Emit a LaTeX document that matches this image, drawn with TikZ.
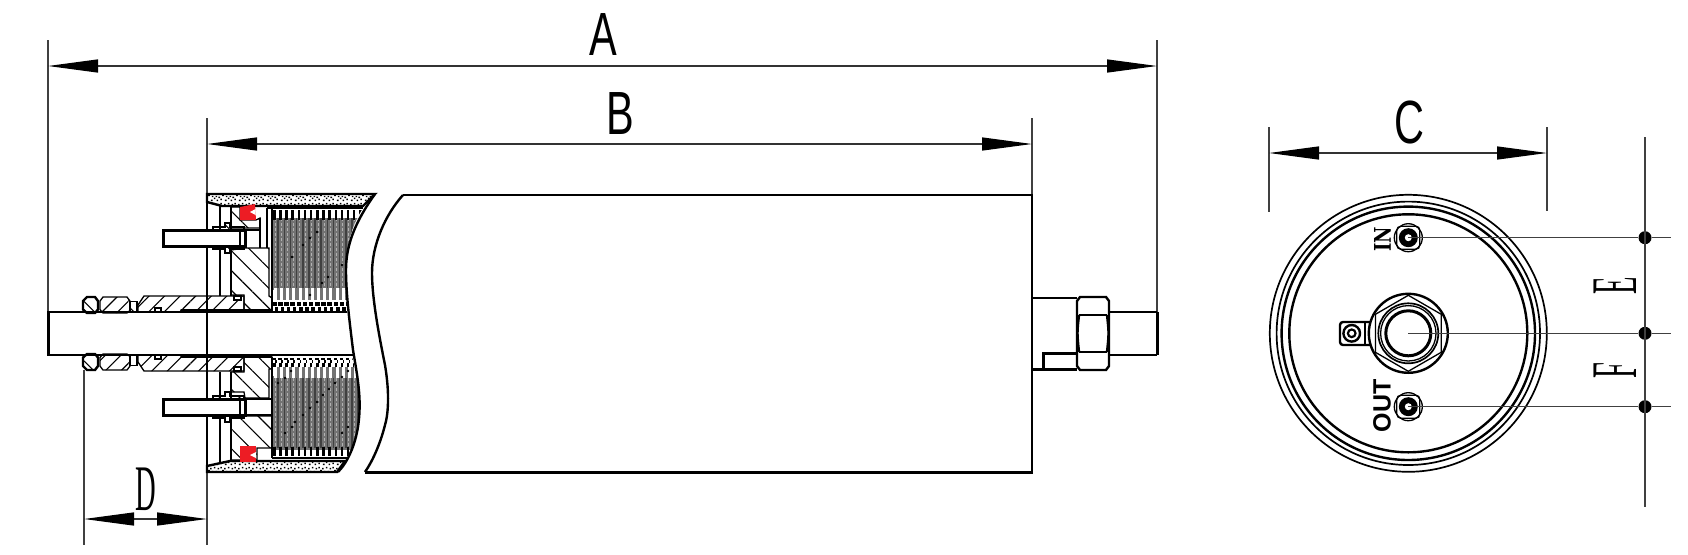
\documentclass[tikz,border=0pt]{standalone}
\usepackage{fontspec}
\setmainfont{Liberation Sans}
\newfontfamily\dimserif{Liberation Serif}
\newfontfamily\portslab{DejaVu Serif}
\usetikzlibrary{positioning, calc, arrows.meta, patterns, patterns.meta}
\pgfdeclarepatternformonly{stipple}{\pgfqpoint{0pt}{0pt}}{\pgfqpoint{14pt}{11pt}}{\pgfqpoint{14pt}{11pt}}{
  \foreach \a/\b in {1/1,4/3,7/1,11/2,2/5,6/5,9/4,13/6,0/8,4/9,8/8,11/9}{
    \pgfpathrectangle{\pgfqpoint{\a pt}{\b pt}}{\pgfqpoint{1.7pt}{1.5pt}}
    \pgfusepath{fill}
  }
}
\tikzset{dimline/.style={line width=1.3pt, draw=black!80, {Triangle[length=50pt,width=13pt,black]}-{Triangle[length=50pt,width=13pt,black]}}}
\tikzset{extline/.style={line width=1.3pt, draw=black!75}}
\tikzset{thin0/.style={line width=1.3pt}}
\tikzset{thick0/.style={line width=2.4pt}}
\tikzset{heavy0/.style={line width=3pt}}
\tikzset{hatchl/.style={thin0, pattern={Lines[angle=45,distance=11pt,line width=1.1pt]}}}
\tikzset{hatchr/.style={thin0, pattern={Lines[angle=-45,distance=14pt,line width=1.1pt]}}}
\tikzset{sandband/.style={thick0, pattern=stipple, pattern color=black}}
\tikzset{sealred/.style={fill={rgb,255:red,237;green,28;blue,36}, draw=none}}
\tikzset{sanslabel/.style={inner sep=0pt, font=\fontsize{61}{61}\selectfont, xscale=.68}}
\tikzset{seriflabel/.style={inner sep=0pt, font=\dimserif\fontsize{65}{65}\selectfont, xscale=.44}}
\tikzset{portlabel/.style={inner sep=0pt, rotate=90}}
\tikzset{dimdot/.style={circle, fill=black, inner sep=0pt, minimum size=13pt}}
\tikzset{packdark/.style={line width=1.6pt, draw=black!75}}
\tikzset{packlight/.style={line width=1pt, draw=black!30, dash pattern=on 3pt off 2pt}}
\tikzset{sleevepart/.pic={
    \draw[thick0, fill=white] (87,-36.5) -- (95,-36.5) -- (98,-32.5) -- (98,-24) -- (95,-20.5) -- (87,-20.5) -- (83,-24) -- (83,-32.5) -- cycle;
    \draw[hatchr] (87,-36.5) -- (95,-36.5) -- (98,-32.5) -- (98,-24) -- (95,-20.5) -- (87,-20.5) -- (83,-24) -- (83,-32.5) -- cycle;
    \draw[thick0, hatchl] (103,-36.5) -- (127,-36.5) -- (130,-32.5) -- (130,-23) -- (127,-20.5) -- (103,-20.5) -- (100,-24) -- (100,-32.5) -- cycle;
    \draw[thick0, hatchr] (130,-32) -- (137,-32) -- (137,-21) -- (130,-21) -- cycle;
    \draw[thick0, hatchl] (138,-28.5) -- (144,-37.5) -- (244,-37.5) -- (244,-23.5) -- (181,-23.5) -- (181,-21.5) -- (138,-21.5) -- cycle;
    \draw[thin0, fill=white] (155,-25.5) rectangle (161,-21.5);
    \draw[thin0, fill=white] (234,-37.5) rectangle (241,-33.5);
    \draw[thin0] (181,-23.5) -- (272,-23.5);
}}
\tikzset{pinpart/.pic={
    \draw[hatchr] (213,-11) -- (225,-11) -- (225,-15) -- (230,-15) -- (230,-11) -- (244,-11) -- (244,-8) -- (213,-8) -- cycle;
    \draw[hatchr] (213,11) -- (225,11) -- (225,15) -- (230,15) -- (230,11) -- (244,11) -- (244,8) -- (213,8) -- cycle;
    \draw[heavy0, fill=white] (163,-8) rectangle (245,8);
    \draw[thin0] (240,-8) -- (240,8);
}}
\tikzset{portpart/.pic={
    \draw[thin0] (0,0) circle[radius=14pt];
    \draw[thin0, rounded corners=4pt] (-11.5,-11.5) rectangle (11.5,11.5);
    \fill[black] (0,0) circle[radius=9.5pt];
    \fill[white] (0,0) circle[radius=3.5pt];
}}

\begin{document}
\begin{tikzpicture}[x=1pt, y=-1pt]
  \useasboundingbox (0,0) rectangle (1688,554);

  \coordinate (a0) at (48,66);
  \coordinate (a1) at (1157,66);
  \coordinate (b0) at (207,144);
  \coordinate (b1) at (1032,144);
  \coordinate (c0) at (1269,153);
  \coordinate (c1) at (1547,153);
  \coordinate (d0) at (84,519);
  \coordinate (d1) at (207,519);

  \draw[extline] (48,40) -- (48,312);
  \draw[extline] (1157,40) -- (1157,312);
  \draw[extline] (207,118) -- (207,545);
  \draw[extline] (1032,118) -- (1032,195);
  \draw[extline] (84,370) -- (84,545);
  \draw[extline] (1269,127) -- (1269,212);
  \draw[extline] (1547,127) -- (1547,211);

  \draw[dimline] (a0) -- (a1);
  \draw[dimline] (b0) -- (b1);
  \draw[dimline] (c0) -- (c1);
  \draw[dimline] (d0) -- (d1);

  \node[sanslabel] (la) at (603,35) {A};
  \node[sanslabel] (lb) at (620,113.5) {B};
  \node[sanslabel] (lc) at (1409,122) {C};
  \node[seriflabel] (ld) at (145.5,489.5) {D};

  \draw[sandband] (207,194) -- (375,194) -- (363,206) -- (222,206) -- (207,202) -- cycle;
  \draw[sandband] (207,466) -- (230,461) -- (345,461) -- (337,472) -- (207,472) -- cycle;

  \draw[thick0] (207,194) -- (207,472);
  \draw[thick0] (220,205) -- (220,296);
  \draw[thick0] (231,205) -- (231,296);
  \draw[thick0] (220,372) -- (220,462);
  \draw[thick0] (231,372) -- (231,462);

  \draw[hatchr] (231,207) -- (240,207) -- (240,220) -- (256,220) -- (260,218) -- (260,228) -- (231,228) -- cycle;
  \draw[thick0, hatchr] (231,250) -- (231,295) -- (244,295) -- (244,310) -- (272,310) -- (272,298) -- (269,296) -- (269,248) -- (245,248) -- cycle;
  \draw[thick0, hatchr] (231,372) -- (244,372) -- (244,357) -- (272,357) -- (272,369) -- (269,369) -- (269,398) -- (245,398) -- (244,392) -- (231,392) -- cycle;
  \draw[thick0, hatchr] (231,417) -- (245,416) -- (272,416) -- (272,448) -- (257,448) -- (257,460) -- (231,460) -- cycle;
  \draw[thick0] (260,218) -- (260,248);
  \draw[thick0] (267,208) -- (267,248);
  \draw[thick0] (245,230) -- (260,230);
  \draw[thick0] (245,399) -- (272,399);
  \draw[thick0] (245,415) -- (272,415);

  \fill[sealred] (240,207) -- (255,204) -- (256,220) -- (240,220) -- cycle;
  \fill[white] (250,212) -- (255.5,209) -- (255.5,215) -- cycle;
  \fill[sealred] (240,446) -- (256,446) -- (256,462) -- (240,462) -- cycle;
  \fill[white] (250,455) -- (256,452) -- (256,458) -- cycle;

  \pic at (0,238) {pinpart};
  \pic at (0,407) {pinpart};
  \pic at (0,333.5) {sleevepart};
  \pic[yscale=-1] at (0,333.5) {sleevepart};

  \begin{scope}
    \clip (272,208) -- (363,208) .. controls (352,225) and (346,245) .. (346,270) -- (347,312) -- (272,312) -- cycle;
    \fill[black!55] (272,218) rectangle (365,290);
    \foreach \k [evaluate=\k as \x using 272+6.15*\k] in {0,...,15}{
      \draw[packdark] (\x,218) -- (\x,288);
      \draw[packlight] (\x+3,218) -- (\x+3,288);
      \fill[black] (\x+1,210) rectangle (\x+3.5,220);
      \fill[white] (\x+2,288) rectangle (\x+5,300);
      \fill[black!55] (\x+5,288) rectangle (\x+8.15,300);
      \fill[black] (\x,302) rectangle (\x+4.5,305.5);
      \fill[black] (\x+2.5,306.5) rectangle (\x+6,311);
    }
    \foreach \px/\py in {317/232,310/238,303/245,292/257,342/265,328/277,322/283,310/295}
      \fill[black] (\px,\py) circle[radius=1.3pt];
  \end{scope}

  \begin{scope}
    \clip (272,357) -- (352,357) .. controls (358,380) and (362,400) .. (358,427) .. controls (355,445) and (352,450) .. (347,458) -- (272,458) -- cycle;
    \fill[black!55] (272,376) rectangle (365,450);
    \foreach \k [evaluate=\k as \x using 272+6.15*\k] in {0,...,15}{
      \draw[packdark] (\x,378) -- (\x,448);
      \draw[packlight] (\x+3,378) -- (\x+3,448);
      \fill[black] (\x+1,447) rectangle (\x+3.5,456);
      \fill[black] (\x+1,363) rectangle (\x+3.5,367);
      \fill[white] (\x+2,367) rectangle (\x+5,378);
      \fill[black!55] (\x+5,367) rectangle (\x+8.15,378);
      \fill[black] (\x,358) rectangle (\x+3.5,360);
      \fill[black] (\x+3,360) rectangle (\x+4.5,363);
    }
    \foreach \px/\py in {295/422,303/415,310/408,317/402,323/395,329/389,335/383,342/377,348/371,291/371,285/378,278/383,285/433,292/427,342/433,348/427}
      \fill[black] (\px,\py) circle[radius=1.3pt];
  \end{scope}

  \draw[thick0] (267,208) -- (363,208);
  \draw[thick0] (272,458) -- (347,458);
  \draw[thick0] (272,357) -- (272,458);
  \draw[thick0] (272,208) -- (272,312);

  \draw[thick0] (347,312) -- (48,312);
  \draw[thick0] (48,355) -- (353,355);
  \draw[heavy0] (48,311) -- (48,356);
  \draw[thick0] (375,194) .. controls (355,222) and (346,245) .. (346,270) .. controls (346,295) and (350,325) .. (353,350) .. controls (358,380) and (362,400) .. (358,427) .. controls (355,445) and (348,462) .. (338,472);
  \draw[thick0] (403,195) .. controls (385,215) and (372,245) .. (372,273) .. controls (372,300) and (380,340) .. (385,365) .. controls (390,395) and (388,415) .. (385,425) .. controls (380,445) and (372,462) .. (365,472);
  \draw[thick0] (403,195) -- (1032,195) -- (1032,472.5) -- (365,472.5);

  \draw[thick0] (1032,298) -- (1077,298);
  \draw[heavy0] (1032,369) -- (1077,369);
  \draw[heavy0] (1043,369) -- (1043,353) -- (1077,353);
  \draw[thick0, fill=white] (1080,297) -- (1106,297) -- (1109,301) -- (1109,366) -- (1106,370) -- (1080,370) -- (1077,366) -- (1077,301) -- cycle;
  \draw[thick0] (1079,315) -- (1107,315);
  \draw[thick0] (1079,352) -- (1107,352);
  \draw[thick0] (1079,315) .. controls (1077,333) .. (1079,352);
  \draw[thick0] (1107,315) .. controls (1109,333) .. (1107,352);
  \draw[thick0] (1109,312) -- (1157,312);
  \draw[thick0] (1109,355) -- (1157,355);
  \draw[heavy0] (1157,312) -- (1157,355);

  \coordinate (hub) at (1408.3,333.3);
  \coordinate (pin0) at (1408.3,237.7);
  \coordinate (pout) at (1408.3,406.7);
  \coordinate (tabc) at (1351.7,333.3);

  \draw[line width=1.7pt] (hub) circle[radius=138.5pt];
  \draw[line width=1.7pt] (hub) circle[radius=131.7pt];
  \draw[thick0] (hub) circle[radius=126.7pt];
  \draw[thick0] (hub) circle[radius=119pt];

  \draw[thick0, rounded corners=3pt] (1340,322) rectangle (1372,345);
  \draw[thick0] (1365,322) -- (1365,345);
  \draw[thick0] (tabc) circle[radius=8.3pt];
  \fill[black] (tabc) circle[radius=5pt];
  \fill[white] (tabc) circle[radius=2.5pt];

  \draw[thick0, fill=white] (hub) circle[radius=39.5pt];
  \draw[thin0, shift={(hub)}] (90:38) -- (30:38) -- (-30:38) -- (-90:38) -- (-150:38) -- (150:38) -- cycle;
  \draw[line width=1.7pt] (hub) circle[radius=30pt];
  \draw[thin0] (hub) circle[radius=27.7pt];
  \draw[heavy0] (hub) circle[radius=22.5pt];

  \pic at (pin0) {portpart};
  \pic at (pout) {portpart};

  \node[portlabel, xscale=.78, font=\portslab\bfseries\fontsize{23}{23}\selectfont] (lin) at (1382.5,239.5) {IN};
  \node[portlabel, font=\bfseries\fontsize{25}{25}\selectfont] (lout) at (1382,406) {OUT};

  \node[dimdot] (e0) at (1645,237.7) {};
  \node[dimdot] (e1) at (1645,333.3) {};
  \node[dimdot] (e2) at (1645,406.7) {};
  \coordinate (e3) at (1645,137);
  \coordinate (e4) at (1645,507);

  \draw[extline] (e3) -- (e4);
  \draw[extline] (pin0) -- (e0) -- ++(26,0);
  \draw[extline] (hub) -- (e1) -- ++(26,0);
  \draw[extline] (pout) -- (e2) -- ++(26,0);

  \node[rotate=90, seriflabel] (le) at (1615.5,285.5) {E};
  \node[rotate=90, seriflabel] (lf) at (1615.5,371) {F};
\end{tikzpicture}
\end{document}
